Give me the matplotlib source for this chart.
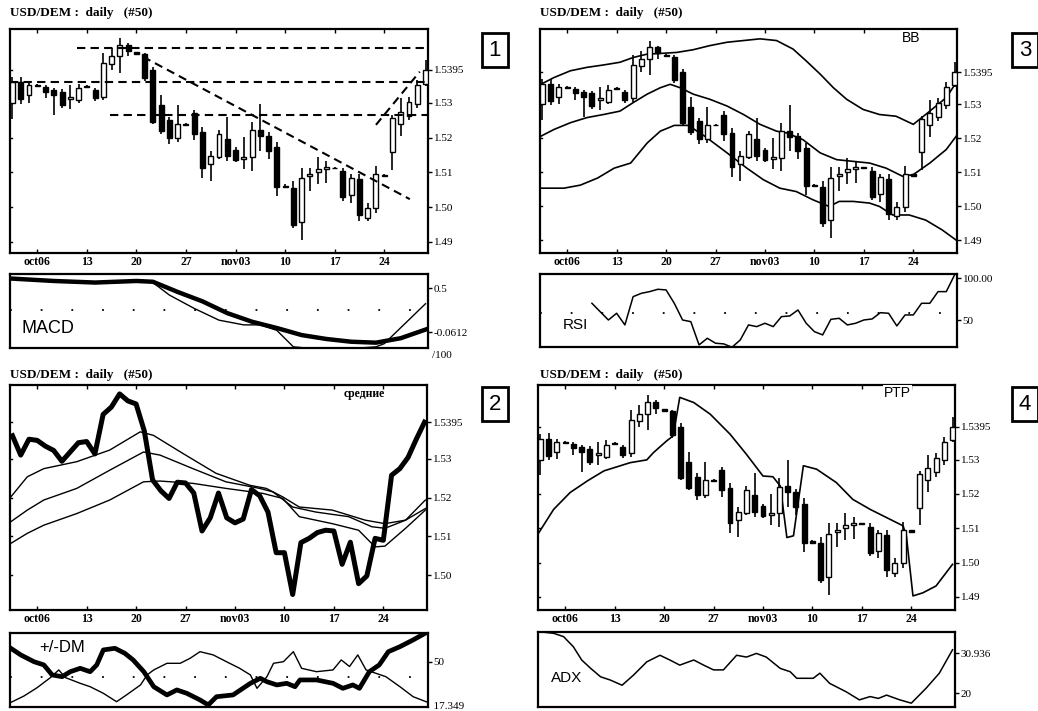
import matplotlib
matplotlib.use('Agg')
import matplotlib.pyplot as plt
from matplotlib.patches import Rectangle

SERIF = 'Liberation Serif'
SANS = 'Liberation Sans'

# ---- data (51 daily bars) ----
xtick_pos = [3, 9, 15, 21, 27, 33, 39, 45]
xtick_labels = ['oct06', '13', '20', '27', 'nov03', '10', '17', '24']

opens = [1.5300, 1.5360, 1.5322, 1.5352, 1.5346, 1.5337, 1.5332, 1.5312, 1.5308, 1.5348,
         1.5337, 1.5318, 1.5412, 1.5434, 1.5468, 1.5446, 1.5440, 1.5395, 1.5293, 1.5250,
         1.5198, 1.5240, 1.5270, 1.5216, 1.5124, 1.5145, 1.5197, 1.5165, 1.5138, 1.5143,
         1.5222, 1.5206, 1.5172, 1.5062, 1.5056, 1.4958, 1.5090, 1.5100, 1.5110, 1.5112,
         1.5104, 1.5035, 1.5080, 1.4970, 1.4998, 1.5094, 1.5160, 1.5240, 1.5263, 1.5298, 1.5356]
highs = [1.5375, 1.5376, 1.5361, 1.5355, 1.5351, 1.5342, 1.5340, 1.5351, 1.5356, 1.5352,
         1.5342, 1.5444, 1.5458, 1.5487, 1.5473, 1.5448, 1.5444, 1.5405, 1.5322, 1.5260,
         1.5293, 1.5242, 1.5279, 1.5231, 1.5163, 1.5222, 1.5260, 1.5172, 1.5201, 1.5245,
         1.5298, 1.5215, 1.5187, 1.5066, 1.5075, 1.5114, 1.5114, 1.5143, 1.5133, 1.5116,
         1.5114, 1.5095, 1.5095, 1.5012, 1.5119, 1.5096, 1.5266, 1.5313, 1.5318, 1.5365, 1.5424]
lows = [1.5255, 1.5298, 1.5301, 1.5345, 1.5313, 1.5264, 1.5285, 1.5284, 1.5301, 1.5342,
        1.5305, 1.5308, 1.5395, 1.5385, 1.5434, 1.5440, 1.5362, 1.5240, 1.5211, 1.5182,
        1.5187, 1.5236, 1.5192, 1.5085, 1.5075, 1.5140, 1.5133, 1.5130, 1.5109, 1.5104,
        1.5163, 1.5140, 1.5032, 1.5055, 1.4940, 1.4905, 1.5046, 1.5066, 1.5069, 1.5110,
        1.5018, 1.5012, 1.4959, 1.4959, 1.4983, 1.5088, 1.5108, 1.5205, 1.5250, 1.5285, 1.5350]
closes = [1.5360, 1.5310, 1.5351, 1.5348, 1.5333, 1.5322, 1.5294, 1.5318, 1.5342, 1.5345,
          1.5313, 1.5415, 1.5434, 1.5468, 1.5450, 1.5442, 1.5372, 1.5246, 1.5218, 1.5198,
          1.5240, 1.5238, 1.5212, 1.5114, 1.5148, 1.5212, 1.5148, 1.5135, 1.5145, 1.5221,
          1.5205, 1.5163, 1.5058, 1.5058, 1.4950, 1.5084, 1.5095, 1.5110, 1.5116, 1.5114,
          1.5028, 1.5085, 1.4978, 1.4998, 1.5095, 1.5090, 1.5258, 1.5275, 1.5304, 1.5351, 1.5395]

price_ticks = [1.49, 1.50, 1.51, 1.52, 1.53, 1.5395]
price_labels = ['1.49', '1.50', '1.51', '1.52', '1.53', '1.5395']

# panel 1: support / resistance lines (x0, x1, y0, y1)
trend_lines = [(7.8, 50.3, 1.5457, 1.5457),
               (-0.3, 50.3, 1.5361, 1.5361),
               (11.8, 50.3, 1.5265, 1.5265),
               (15.8, 48.1, 1.5433, 1.5023),
               (44.0, 49.3, 1.5237, 1.5390)]

# MACD (scaled /100)
macd_x = [0, 5, 10, 15, 17, 19, 22, 25, 28, 30, 32, 34, 36, 40, 44, 45, 50]
macd_line = [0.62, 0.59, 0.57, 0.59, 0.57, 0.41, 0.24, 0.09, 0.03, 0.03, -0.04, -0.25,
             -0.27, -0.28, -0.25, -0.21, 0.30]
signal_x = [0, 5, 10, 15, 17, 20, 23, 26, 29, 32, 35, 38, 41, 44, 47, 50]
signal_line = [0.62, 0.59, 0.57, 0.59, 0.58, 0.45, 0.33, 0.18, 0.07, -0.01, -0.10, -0.15,
               -0.185, -0.197, -0.14, -0.03]

# Bollinger bands
bb_up_x = [-0.2, 1.4, 3.4, 5.4, 7.4, 9.4, 11, 12.7, 14.3, 16.3, 18.3, 20.3, 22.4, 24.4, 26.4,
           28.4, 30.4, 32, 33.7, 35.3, 36.9, 38.9, 40.9, 42.9, 45, 47, 49, 50.2]
bb_upper = [1.5359, 1.5379, 1.5399, 1.5409, 1.5416, 1.5424, 1.5438, 1.5448, 1.5450, 1.5453,
            1.5461, 1.5473, 1.5483, 1.5488, 1.5493, 1.5488, 1.5463, 1.5428, 1.5389, 1.5349,
            1.5315, 1.5285, 1.5270, 1.5265, 1.5241, 1.5280, 1.5320, 1.5364]
bb_mid_x = [-0.2, 1.4, 3.4, 5.4, 7.4, 9.4, 11, 12.7, 14.3, 15.5, 16.7, 18.3, 20.3, 22.4, 24.4,
            26.4, 28.4, 29.6, 31.6, 33.7, 35.7, 37.7, 39.7, 41.7, 43.7, 45, 47, 49, 50.2]
bb_middle = [1.5206, 1.5226, 1.5246, 1.5261, 1.5270, 1.5280, 1.5305, 1.5330, 1.5349, 1.5359,
             1.5349, 1.5330, 1.5315, 1.5295, 1.5270, 1.5241, 1.5221, 1.5216, 1.5196, 1.5157,
             1.5137, 1.5132, 1.5127, 1.5112, 1.5088, 1.5093, 1.5127, 1.5167, 1.5206]
bb_lo_x = [-0.2, 2.6, 4.6, 6.7, 8.7, 10.7, 12.7, 14.3, 16, 17.7, 19.7, 22.4, 24.8, 26.8, 28.8,
           30.8, 32.8, 34.8, 36, 37.7, 39.7, 40.9, 42.5, 44.5, 46.5, 48.5, 50.2]
bb_lower = [1.5053, 1.5053, 1.5062, 1.5083, 1.5112, 1.5127, 1.5186, 1.5221, 1.5238, 1.5238,
            1.5206, 1.5157, 1.5112, 1.5078, 1.5053, 1.5043, 1.5019, 1.4999, 1.5014, 1.5014,
            1.5009, 1.4999, 1.4974, 1.4974, 1.4959, 1.4930, 1.4900]

# RSI, bars 6..50
rsi_x = list(range(6, 51))
rsi = [70.1, 60.1, 50.2, 58.2, 44.3, 78.0, 82.0, 84.0, 86.8, 86.0, 70.0, 50.2, 48.2, 20.5,
       28.4, 22.5, 21.7, 17.7, 26.4, 44.3, 42.3, 46.3, 42.3, 54.2, 55.0, 62.1, 46.3, 36.3,
       32.4, 51.0, 52.2, 44.3, 46.3, 50.2, 51.4, 58.9, 58.2, 43.1, 56.2, 56.2, 70.1, 70.1,
       84.0, 84.0, 103.8]

# panel 2: three moving averages
ma1_x = [-0.2, 1.8, 3.8, 7.8, 11.8, 15.5, 17.1, 20.7, 24.7, 28.8, 30.8, 32.8, 34.8, 38.8,
         42.8, 45.2, 47.7, 50.1]
ma1 = [1.5202, 1.5254, 1.5275, 1.5293, 1.5323, 1.5370, 1.5361, 1.5314, 1.5263, 1.5232,
       1.5224, 1.5202, 1.5176, 1.5168, 1.5142, 1.5133, 1.5142, 1.5194]
ma2_x = [-0.2, 1.8, 3.8, 7.8, 11.8, 15.9, 17.9, 21.9, 25.9, 30.0, 31.6, 34.0, 36.8, 40.8,
         43.6, 45.2, 47.7, 50.1]
ma2 = [1.5138, 1.5168, 1.5194, 1.5224, 1.5271, 1.5318, 1.5310, 1.5275, 1.5241, 1.5224,
       1.5215, 1.5176, 1.5163, 1.5151, 1.5125, 1.5121, 1.5142, 1.5172]
ma3_x = [-0.2, 1.8, 3.8, 7.8, 11.8, 15.9, 17.9, 21.9, 25.9, 30.4, 32.8, 34.8, 38.8, 42.0,
         44.0, 45.2, 47.7, 50.1]
ma3 = [1.5082, 1.5108, 1.5129, 1.5159, 1.5194, 1.5241, 1.5243, 1.5237, 1.5224, 1.5211,
       1.5198, 1.5151, 1.5133, 1.5116, 1.5073, 1.5075, 1.5121, 1.5168]

# +/-DM
dm_plus_x = [-0.2, 1.0, 2.6, 3.8, 4.8, 6.0, 7.0, 8.2, 9.4, 10.2, 11.0, 12.4, 13.6, 14.6,
             15.9, 17.1, 18.7, 19.9, 21.1, 22.7, 23.7, 24.7, 26.7, 28.8, 30.0, 30.8, 32.0,
             33.2, 34.2, 34.8, 36.8, 38.8, 40.0, 41.2, 42.0, 43.2, 44.4, 45.5, 46.9, 48.5, 50.3]
dm_plus = [59.3, 54.8, 50.2, 48.0, 41.2, 40.0, 43.4, 45.7, 43.4, 48.0, 58.2, 59.3, 55.9,
           51.4, 43.4, 33.2, 27.6, 31.0, 28.7, 24.2, 20.8, 26.4, 27.6, 35.5, 38.9, 36.6, 34.4,
           35.5, 33.2, 37.8, 37.8, 35.5, 32.1, 34.4, 32.1, 43.4, 48.0, 57.0, 60.4, 65.0, 70.6]
dm_minus_x = [-0.2, 1.4, 3.0, 4.6, 5.6, 6.4, 8.2, 9.4, 11.0, 12.6, 13.8, 15.5, 16.3, 17.1,
              18.7, 20.3, 21.5, 22.7, 24.3, 25.9, 27.5, 28.8, 29.6, 30.8, 31.6, 32.8, 34.0,
              35.0, 36.8, 38.8, 39.8, 40.8, 41.8, 42.8, 44.0, 45.2, 46.9, 48.5, 50.3]
dm_minus = [22.5, 26.9, 32.6, 39.4, 44.6, 39.4, 35.5, 33.2, 28.7, 23.0, 27.6, 34.4, 41.2,
            44.6, 49.1, 49.1, 52.5, 57.0, 54.8, 50.2, 45.7, 41.2, 32.1, 40.0, 49.1, 50.2, 57.0,
            45.7, 43.4, 44.6, 51.4, 46.9, 54.8, 44.6, 42.3, 40.0, 33.2, 26.4, 22.5]

# panel 4: PTP channel line
ptp_x = [-0.2, 1.6, 3.6, 5.7, 7.7, 9.7, 10.9, 12.9, 13.7, 15.3, 16.1, 16.9, 18.6, 20.6, 23.0,
         25.0, 27.0, 28.2, 29.1, 29.9, 30.7, 31.9, 33.5, 35.9, 37.9, 40.0, 42.0, 44.0, 44.4,
         45.2, 46.4, 48.0, 50.0]
ptp = [1.5087, 1.5155, 1.5204, 1.5238, 1.5267, 1.5282, 1.5291, 1.5299, 1.5320, 1.5354, 1.5369,
       1.5481, 1.5466, 1.5432, 1.5374, 1.5315, 1.5252, 1.5250, 1.5223, 1.5073, 1.5078, 1.5282,
       1.5272, 1.5233, 1.5184, 1.5155, 1.5131, 1.5107, 1.5078, 1.4903, 1.4912, 1.4932, 1.4995]

# ADX
adx_x = [0, 1.6, 2.8, 4.0, 5.0, 6.1, 7.3, 8.5, 9.9, 11.3, 12.9, 14.5, 15.7, 16.9, 18.6, 19.8,
         21.0, 22.2, 23.8, 25.0, 26.2, 27.4, 29.1, 30.3, 31.1, 33.1, 33.9, 35.1, 37.1, 38.7,
         40.0, 41.0, 42.0, 43.6, 45.0, 46.8, 48.4, 50.0]
adx = [36.8, 36.4, 35.5, 32.7, 29.1, 26.8, 24.5, 23.6, 22.2, 25.0, 28.6, 30.4, 29.1, 27.7,
       29.1, 27.7, 26.4, 26.4, 30.4, 29.9, 30.9, 29.9, 26.8, 25.9, 24.1, 24.1, 25.5, 22.7,
       20.4, 18.2, 19.1, 18.6, 19.5, 18.2, 17.3, 21.4, 25.5, 31.9]

XLIM = (-0.3, 50.3)
PX_W, PX_H = 1038, 711


def rect(x0, y0, x1, y1):
    # pixel box (top-left origin) -> figure fraction
    return [x0 / PX_W, 1 - y1 / PX_H, (x1 - x0) / PX_W, (y1 - y0) / PX_H]


def frame(ax):
    ax.set_xlim(*XLIM)
    for s in ax.spines.values():
        s.set_linewidth(1.6)
    ax.set_facecolor('white')


def left_marks(ax, ticks):
    for y in ticks:
        ax.plot([XLIM[0], XLIM[0] + 0.25], [y, y], color='k', lw=1, clip_on=False)


def price_axes(ax, ylim, ticks, labels):
    frame(ax)
    ax.set_ylim(*ylim)
    ax.set_xticks(xtick_pos, xtick_labels, fontfamily=SERIF, fontsize=8.5, fontweight='bold')
    ax.set_yticks(ticks, labels, fontfamily=SERIF, fontsize=8)
    ax.tick_params(axis='x', direction='in', length=3, width=1, top=True, pad=2)
    ax.tick_params(axis='y', direction='out', length=3, width=1, left=False, right=True,
                   labelleft=False, labelright=True, pad=1)
    left_marks(ax, ticks)


def sub_axes(ax, ylim, ticks, labels):
    frame(ax)
    ax.set_ylim(*ylim)
    ax.set_xticks([])
    ax.set_yticks(ticks, labels, fontfamily=SERIF, fontsize=8)
    ax.tick_params(axis='y', direction='out', length=3, width=1, left=False, right=True,
                   labelleft=False, labelright=True, pad=1)


def draw_candles(ax):
    w = 0.6
    for i in range(len(closes)):
        o, h, l, c = opens[i], highs[i], lows[i], closes[i]
        ax.plot([i, i], [l, h], color='k', lw=1.2, zorder=2, solid_capstyle='butt')
        body = max(abs(c - o), 0.00018)
        fc = 'white' if c >= o else 'black'
        ax.add_patch(Rectangle((i - w / 2, min(o, c)), w, body, facecolor=fc,
                               edgecolor='black', lw=1.0, zorder=3))


def dotted(ax, y):
    ax.axhline(y, color='k', lw=1.3, linestyle=(0, (1, 16)))


def panel_label(ax, text, x, y, size=12):
    ax.text(x, y, text, transform=ax.transAxes, fontfamily=SANS, fontsize=size,
            va='center', ha='left')


def title(x, y):
    fig.text(x / PX_W, 1 - y / PX_H, 'USD/DEM :  daily   (#50)', fontfamily=SERIF,
             fontsize=9.5, fontweight='bold', va='center', ha='left')


def number_box(x, y, n):
    fig.text(x / PX_W, 1 - y / PX_H, n, fontfamily=SANS, fontsize=16, ha='center',
             va='center', bbox=dict(boxstyle='square,pad=0.3', fc='white', ec='black', lw=2))


fig = plt.figure(figsize=(PX_W / 100, PX_H / 100), dpi=100)

# ---------- panel 1 ----------
title(10, 13)
ax1 = fig.add_axes(rect(10, 29, 428, 253))
price_axes(ax1, (1.4868, 1.5513), price_ticks, price_labels)
draw_candles(ax1)
for x0, x1, y0, y1 in trend_lines:
    ax1.plot([x0, x1], [y0, y1], color='k', lw=1.5, linestyle=(0, (4, 2.5)), zorder=4)
number_box(495, 50, '1')

ax1s = fig.add_axes(rect(10, 274, 428, 348))
sub_axes(ax1s, (-0.265, 0.679), [0.5, -0.0612], ['0.5', '-0.0612'])
dotted(ax1s, 0.22)
ax1s.plot(signal_x, signal_line, color='k', lw=3.2)
ax1s.plot(macd_x, macd_line, color='k', lw=1.0)
panel_label(ax1s, 'MACD', 0.028, 0.27, size=13)
fig.text(432 / PX_W, 1 - 355 / PX_H, '/100', fontfamily=SERIF, fontsize=8, va='center')

# ---------- panel 3 ----------
title(540, 13)
ax3 = fig.add_axes(rect(540, 29, 957, 253))
price_axes(ax3, (1.4862, 1.5522), price_ticks, price_labels)
ax3.plot(bb_up_x, bb_upper, color='k', lw=1.2)
ax3.plot(bb_mid_x, bb_middle, color='k', lw=1.2)
ax3.plot(bb_lo_x, bb_lower, color='k', lw=1.2)
draw_candles(ax3)
ax3.text(0.868, 0.992, 'BB', transform=ax3.transAxes, fontfamily=SANS, fontsize=10,
         va='top', ha='left', bbox=dict(fc='white', ec='none', pad=0.5))
number_box(1025, 50, '3')

ax3s = fig.add_axes(rect(540, 274, 957, 347))
sub_axes(ax3s, (18, 105), [100, 50], ['100.00', '50'])
dotted(ax3s, 58)
ax3s.plot(rsi_x, rsi, color='k', lw=1.1)
panel_label(ax3s, 'RSI', 0.055, 0.3, size=11)

# ---------- panel 2 ----------
title(10, 375)
ax2 = fig.add_axes(rect(10, 385, 427, 610))
price_axes(ax2, (1.4910, 1.5491), price_ticks[1:], price_labels[1:])
ax2.plot(ma1_x, ma1, color='k', lw=1.0)
ax2.plot(ma2_x, ma2, color='k', lw=1.0)
ax2.plot(ma3_x, ma3, color='k', lw=1.0)
ax2.plot(range(len(closes)), closes, color='k', lw=3.6, solid_joinstyle='round')
ax2.text(0.8, 0.985, 'средние', transform=ax2.transAxes, fontfamily=SERIF, fontsize=8.5,
         fontweight='bold', va='top', ha='left')
number_box(495, 404, '2')

ax2s = fig.add_axes(rect(10, 633, 428, 707))
sub_axes(ax2s, (19.4, 69.7), [50], ['50'])
ax2s.text(1.0, 16.5, '  17.349', transform=ax2s.get_yaxis_transform(), fontfamily=SERIF,
          fontsize=8, va='bottom', ha='left')
dotted(ax2s, 40)
ax2s.plot(dm_minus_x, dm_minus, color='k', lw=1.0)
ax2s.plot(dm_plus_x, dm_plus, color='k', lw=3.4)
panel_label(ax2s, '+/-DM', 0.07, 0.8, size=12)

# ---------- panel 4 ----------
title(540, 375)
ax4 = fig.add_axes(rect(538, 385, 955, 610))
price_axes(ax4, (1.4862, 1.5517), price_ticks, price_labels)
ax4.plot(ptp_x, ptp, color='k', lw=1.2)
draw_candles(ax4)
ax4.text(0.83, 0.995, 'PTP', transform=ax4.transAxes, fontfamily=SANS, fontsize=10,
         va='top', ha='left', bbox=dict(fc='white', ec='none', pad=0.5))
number_box(1025, 404, '4')

ax4s = fig.add_axes(rect(538, 632, 955, 707))
sub_axes(ax4s, (16.25, 36.76), [30.936, 20], ['30.936', '20'])
ax4s.plot(adx_x, adx, color='k', lw=1.1)
panel_label(ax4s, 'ADX', 0.03, 0.38, size=11)

fig.savefig('out.png', dpi=100)
